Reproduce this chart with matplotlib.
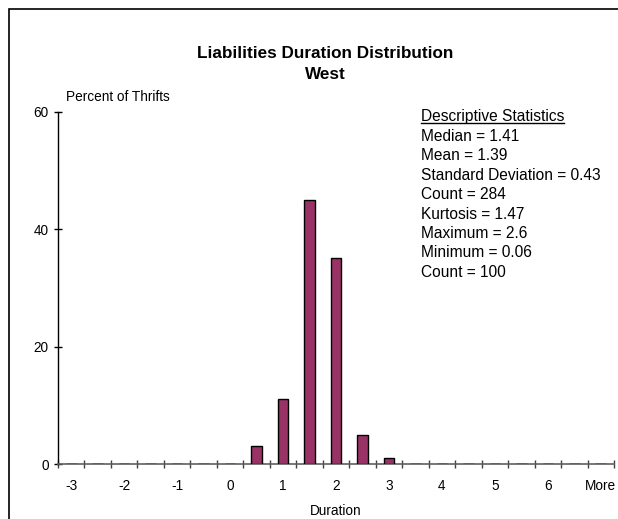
import matplotlib
matplotlib.use('Agg')
import matplotlib.pyplot as plt
from matplotlib.lines import Line2D
from matplotlib.patches import Rectangle

plt.rcParams['font.family'] = ['Liberation Sans', 'DejaVu Sans']

# histogram bins (Excel style, upper bound of each bin) and percent of thrifts
bins = ['-3', '-2.5', '-2', '-1.5', '-1', '-0.5', '0', '0.5', '1', '1.5', '2',
        '2.5', '3', '3.5', '4', '4.5', '5', '5.5', '6', '6.5', 'More']
percent = [0, 0, 0, 0, 0, 0, 0, 3, 11, 45, 35, 5, 1, 0, 0, 0, 0, 0, 0, 0, 0]

stats_title = 'Descriptive Statistics'
stats_lines = ['Median = 1.41', 'Mean = 1.39', 'Standard Deviation = 0.43',
               'Count = 284', 'Kurtosis = 1.47', 'Maximum = 2.6',
               'Minimum = 0.06', 'Count = 100']

W, H = 618, 519
fig = plt.figure(figsize=(W / 100, H / 100), dpi=100)


def px(x, y):
    # pixel position (top-left origin) -> figure fraction
    return x / W, 1 - y / H


ax = fig.add_axes([58 / W, 1 - 464 / H, (614 - 58) / W, (464 - 111.5) / H])

idx = list(range(len(bins)))
ax.bar(idx, percent, width=0.4, color='#993366', edgecolor='black', linewidth=1.0, zorder=3)

ax.set_xlim(-0.5, len(bins) - 0.5)
ax.set_ylim(0, 60)
ax.set_yticks([0, 20, 40, 60])

# labels on every other bin, tick marks between bins
ax.set_xticks(idx[::2])
ax.set_xticklabels(bins[::2])
ax.set_xticks([i - 0.5 for i in idx] + [len(bins) - 0.5], minor=True)
ax.tick_params(axis='x', which='major', length=0, pad=10.5, labelsize=9.8)
ax.tick_params(axis='x', which='minor', direction='inout', length=6, width=1.0, color='#404040')
ax.tick_params(axis='y', direction='inout', length=6, width=1.0, pad=3.6, labelsize=9.8)

for s in ['top', 'right']:
    ax.spines[s].set_visible(False)
ax.spines['bottom'].set_color('#606060')
ax.spines['bottom'].set_linewidth(1.2)
ax.spines['left'].set_linewidth(1.0)

ax.set_xlabel('Duration', fontsize=9.8, labelpad=8)

# chart titles
fig.text(*px(325, 58), 'Liabilities Duration Distribution', ha='center', va='baseline',
         fontsize=12.3, fontweight='bold')
fig.text(*px(325, 79), 'West', ha='center', va='baseline', fontsize=12.3, fontweight='bold')
fig.text(*px(66, 101), 'Percent of Thrifts', ha='left', va='baseline', fontsize=9.8)

# descriptive statistics box
head = fig.text(*px(421, 121.5), stats_title, ha='left', va='baseline', fontsize=11.2)
for i, line in enumerate(stats_lines):
    fig.text(*px(421, 141 + i * 19.4), line, ha='left', va='baseline', fontsize=11.2)

fig.canvas.draw()
bb = head.get_window_extent()
uy = bb.y0 + 2
fig.add_artist(Line2D([bb.x0 / W, bb.x1 / W], [uy / H, uy / H], color='black', linewidth=1.0))

# outer chart border (cut off at right and bottom)
fig.add_artist(Rectangle((9 / W, -0.5), 2, (1 - 9 / H) + 0.5, transform=fig.transFigure,
                         fill=False, edgecolor='black', linewidth=1.2))

fig.savefig('out.png', dpi=100)
